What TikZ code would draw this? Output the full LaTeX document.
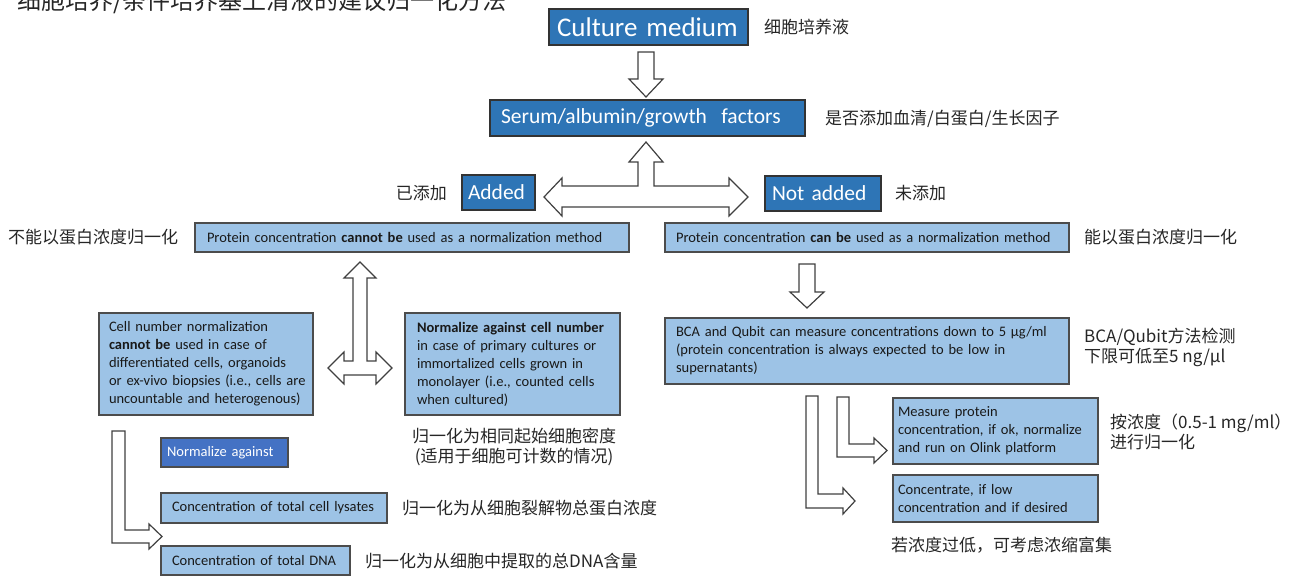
\documentclass[tikz,border=0pt]{standalone}
\usepackage{fontspec}
\setmainfont{Carlito}
\newfontfamily\cjk{Noto Sans CJK SC}
\usepackage{xcolor}
\usepackage{tikz}
\definecolor{boxblue}{RGB}{46,117,182}
\definecolor{paleblue}{RGB}{157,195,230}
\definecolor{midblue}{RGB}{68,114,196}
\hyphenpenalty=10000
\exhyphenpenalty=10000

\begin{document}
\begin{tikzpicture}[x=1pt, y=-1pt,
    darkbox/.style={draw=black!80, line width=1.3pt, fill=boxblue, text=white, inner ysep=0pt, align=left},
    lightbox/.style={draw=black!70, line width=1.1pt, fill=paleblue, text=black!90, inner ysep=0pt, align=left, font=\fontsize{14.5}{18}\selectfont},
    note/.style={anchor=west, inner sep=0pt, text=black!85, font=\cjk\fontsize{17}{20}\selectfont},
    blockarrow/.style={draw=black!75, fill=white, line width=1.2pt}]
        \useasboundingbox (0,0) rectangle (1293,577);
        \node[anchor=base west, inner sep=0pt, text=black!85, font=\cjk\fontsize{24}{28}\selectfont] (title) at (17,10) {细胞培养/条件培养基上清液的建议归一化方法};

        % top of the tree
        \node[darkbox, font=\fontsize{27}{30}\selectfont, text width=183pt, inner xsep=8pt, minimum height=36pt] (medium) at (648.5,27) {Culture medium};
        \node[darkbox, font=\fontsize{21.5}{26}\selectfont, text width=293pt, inner xsep=11pt, minimum height=36pt] (serum) at (647.5,118) {Serum/albumin/growth\ \ factors};
        \node[darkbox, font=\fontsize{21.5}{25}\selectfont, text width=61pt, inner xsep=6pt, minimum height=35pt] (added) at (498.5,192.5) {Added};
        \node[darkbox, font=\fontsize{21.5}{25}\selectfont, text width=102pt, inner xsep=7pt, minimum height=35pt] (notadded) at (823,193.5) {Not added};

        % left branch
        \node[lightbox, text width=410pt, inner xsep=12pt, minimum height=29pt] (cannot) at (412,237.5) {Protein concentration \textbf{cannot be} used as a normalization method};
        \node[lightbox, text width=208pt, inner xsep=3pt, minimum height=102pt] (cellno) at (206,364) {\hspace*{7pt}Cell number normalization\\ \hspace*{7pt}\textbf{cannot be} used in case of\\ \hspace*{7pt}differentiated cells, organoids\\ \hspace*{7pt}or ex-vivo biopsies (i.e., cells are\\ \hspace*{7pt}uncountable and heterogenous)};
        \node[lightbox, text width=205pt, inner xsep=5pt, minimum height=102pt] (normcell) at (512.5,364) {\hspace*{7pt}\textbf{Normalize against cell number}\\ \hspace*{7pt}in case of primary cultures or\\ \hspace*{7pt}immortalized cells grown in\\ \hspace*{7pt}monolayer (i.e., counted cells\\ \hspace*{7pt}when cultured)};
        \node[lightbox, fill=midblue, text=white, text width=115pt, inner xsep=6pt, minimum height=29pt] (normagainst) at (224.5,452.5) {Normalize against};
        \node[lightbox, text width=208pt, inner xsep=9pt, minimum height=30pt] (lysates) at (274,508) {\hspace*{2pt}Concentration of total cell lysates};
        \node[lightbox, text width=171pt, inner xsep=9pt, minimum height=29pt] (dna) at (255.5,560.5) {\hspace*{2pt}Concentration of total DNA};

        % right branch
        \node[lightbox, text width=386pt, inner xsep=9pt, minimum height=29pt] (can) at (867,237.5) {\hspace*{2pt}Protein concentration \textbf{can be} used as a normalization method};
        \node[lightbox, text width=386pt, inner xsep=9pt, minimum height=66pt] (bca) at (867,351) {\hspace*{2pt}BCA and Qubit can measure concentrations down to 5 µg/ml\\ \hspace*{2pt}(protein concentration is always expected to be low in\\ \hspace*{2pt}supernatants)};
        \node[lightbox, text width=197pt, inner xsep=4pt, minimum height=66pt] (measure) at (995.5,431) {\hspace*{1pt}Measure protein\\ \hspace*{1pt}concentration, if ok, normalize\\ \hspace*{1pt}and run on Olink platform};
        \node[lightbox, text width=197pt, inner xsep=4pt, minimum height=47pt] (concentrate) at (995.5,498.5) {\hspace*{1pt}Concentrate, if low\\ \hspace*{1pt}concentration and if desired};

        % block arrows
        \draw[blockarrow] (638,52) -- (654,52) -- (654,79) -- (663,79) -- (646,97) -- (629,79) -- (638,79) -- cycle;
        \draw[blockarrow] (646,142) -- (663,162) -- (654,162) -- (654,186) -- (729,186) -- (729,178) -- (748,197) -- (729,216) -- (729,207)
            -- (562,207) -- (562,216) -- (544,197) -- (562,178) -- (562,186) -- (638,186) -- (638,162) -- (629,162) -- cycle;
        \draw[blockarrow] (360,262) -- (376,278) -- (367,278) -- (367,361) -- (376,361) -- (376,352) -- (392,368) -- (376,384) -- (376,375)
            -- (344,375) -- (344,384) -- (328,368) -- (344,352) -- (344,361) -- (353,361) -- (353,278) -- (344,278) -- cycle;
        \draw[blockarrow] (799,264) -- (815,264) -- (815,292) -- (824,292) -- (807,308) -- (790,292) -- (799,292) -- cycle;
        \draw[blockarrow] (112,431) -- (125,431) -- (125,530) -- (149,530) -- (149,524) -- (162,536.5) -- (149,549) -- (149,543) -- (112,543) -- cycle;
        \draw[blockarrow] (806,396) -- (818,396) -- (818,494) -- (843,494) -- (843,488) -- (855,501) -- (843,514) -- (843,508) -- (806,508) -- cycle;
        \draw[blockarrow] (837,397) -- (849,397) -- (849,444) -- (874,444) -- (874,438) -- (887,450.5) -- (874,463) -- (874,457) -- (837,457) -- cycle;

        % notes in Chinese
        \node[note] (mediumzh) at (764,27) {细胞培养液};
        \node[note] (serumzh) at (825,119) {是否添加血清/白蛋白/生长因子};
        \node[note, anchor=east] (addedzh) at (447,193) {已添加};
        \node[note] (notaddedzh) at (895,193) {未添加};
        \node[note] (cannotzh) at (8,237) {不能以蛋白浓度归一化};
        \node[note] (canzh) at (1084,237) {能以蛋白浓度归一化};
        \node[note, anchor=center, align=center] (cellzh) at (514,447) {归一化为相同起始细胞密度\\(适用于细胞可计数的情况)};
        \node[note] (lysateszh) at (402,508) {归一化为从细胞裂解物总蛋白浓度};
        \node[note] (dnazh) at (365,561) {归一化为从细胞中提取的总DNA含量};
        \node[note, align=left] (bcazh) at (1084,347) {BCA/Qubit方法检测\\下限可低至5 ng/μl};
        \node[note, align=left] (measurezh) at (1110,432) {按浓度（0.5-1 mg/ml）\\进行归一化};
        \node[note] (concentratezh) at (891,545) {若浓度过低，可考虑浓缩富集};
    \end{tikzpicture}
\end{document}
